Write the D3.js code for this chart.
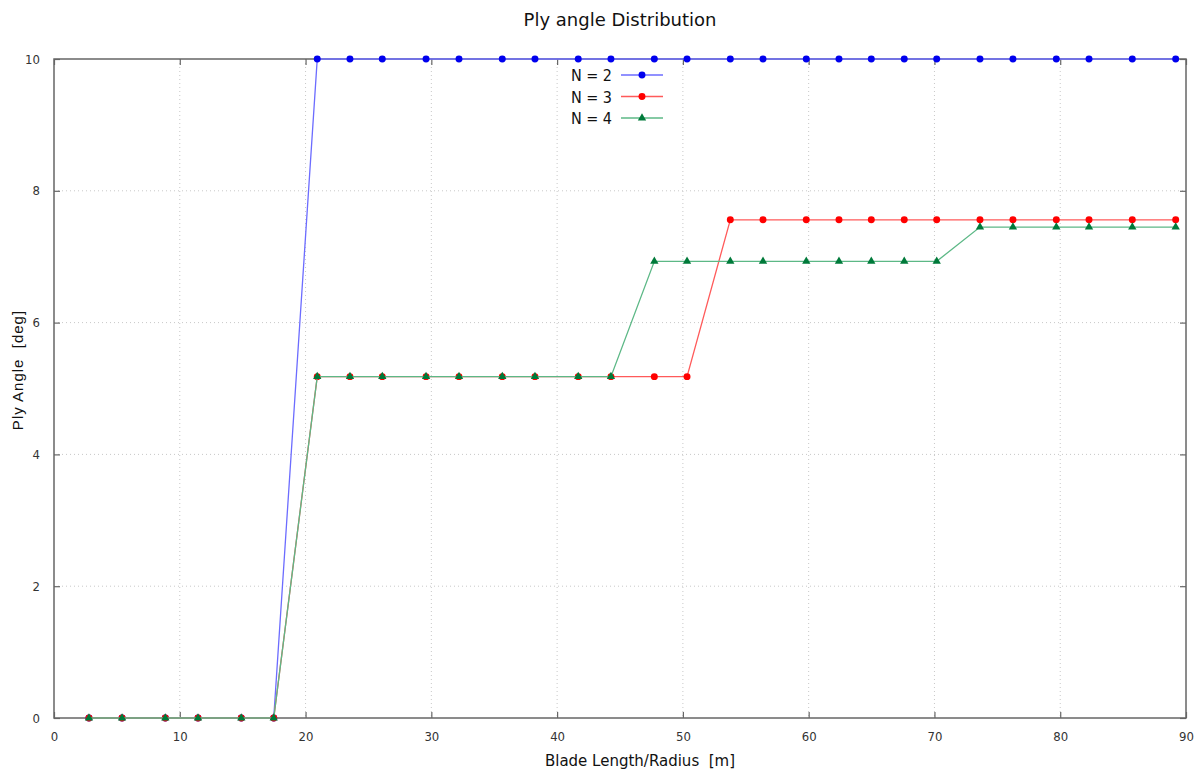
<!DOCTYPE html>
<html>
<head>
<meta charset="utf-8">
<script src="https://cdn.jsdelivr.net/npm/d3@7"></script>
<style>
  body { margin: 0; background: #fff; }
  svg { display: block; }
</style>
</head>
<body>
<div id="chart"></div>
<script>
// Blade stations (m), shared by all series.
var stations = [2.78, 5.41, 8.85, 11.45, 14.89, 17.47, 20.93, 23.53, 26.10, 29.58,
                32.20, 35.64, 38.24, 41.68, 44.28, 47.73, 50.33, 53.77, 56.37, 59.81,
                62.41, 64.98, 67.60, 70.18, 73.62, 76.24, 79.69, 82.29, 85.73, 89.18];

var plyN2 = [0, 0, 0, 0, 0, 0, 10, 10, 10, 10, 10, 10, 10, 10, 10, 10, 10, 10, 10, 10,
             10, 10, 10, 10, 10, 10, 10, 10, 10, 10];
var plyN3 = [0, 0, 0, 0, 0, 0, 5.18, 5.18, 5.18, 5.18, 5.18, 5.18, 5.18, 5.18, 5.18, 5.18, 5.18,
             7.56, 7.56, 7.56, 7.56, 7.56, 7.56, 7.56, 7.56, 7.56, 7.56, 7.56, 7.56, 7.56];
var plyN4 = [0, 0, 0, 0, 0, 0, 5.18, 5.18, 5.18, 5.18, 5.18, 5.18, 5.18, 5.18, 5.18,
             6.93, 6.93, 6.93, 6.93, 6.93, 6.93, 6.93, 6.93, 6.93,
             7.45, 7.45, 7.45, 7.45, 7.45, 7.45];

var seriesNames = ['N = 2', 'N = 3', 'N = 4'];
var xTicks = [0, 10, 20, 30, 40, 50, 60, 70, 80, 90];
var yTicks = [0, 2, 4, 6, 8, 10];

var W = 1199, H = 773;
var margin = {top: 59, right: 13, bottom: 55, left: 54};
var w = W - margin.left - margin.right;
var h = H - margin.top - margin.bottom;

var svg = d3.select('#chart').append('svg')
  .attr('width', W).attr('height', H);

var x = d3.scaleLinear().domain([0, 90]).range([0, w]);
var y = d3.scaleLinear().domain([0, 10]).range([h, 0]);

var g = svg.append('g').attr('transform', 'translate(' + margin.left + ',' + margin.top + ')');

// Dotted grid.
g.append('g').selectAll('line').data(xTicks.slice(1, -1)).enter().append('line')
  .attr('x1', d => x(d)).attr('x2', d => x(d))
  .attr('y1', 0).attr('y2', h)
  .attr('stroke', '#c8c8c8').attr('stroke-dasharray', '1,3');
g.append('g').selectAll('line').data(yTicks.slice(1, -1)).enter().append('line')
  .attr('x1', 0).attr('x2', w)
  .attr('y1', d => y(d)).attr('y2', d => y(d))
  .attr('stroke', '#c8c8c8').attr('stroke-dasharray', '1,3');

// Axes with inward ticks, mirrored like gnuplot.
function styleAxis(sel) {
  sel.select('.domain').remove();
  sel.selectAll('line').attr('stroke', '#666').attr('stroke-width', 1.2);
  sel.selectAll('text').attr('fill', '#333')
    .style('font-family', '"DejaVu Sans", sans-serif')
    .style('font-stretch', 'condensed')
    .style('font-size', '13px');
}
g.append('g').attr('transform', 'translate(0,' + h + ')')
  .call(d3.axisBottom(x).tickValues(xTicks).tickSizeInner(-6).tickSizeOuter(0).tickPadding(14))
  .call(styleAxis);
g.append('g')
  .call(d3.axisLeft(y).tickValues(yTicks).tickSizeInner(-6).tickSizeOuter(0).tickPadding(14))
  .call(styleAxis);
g.append('g')
  .call(d3.axisTop(x).tickValues(xTicks).tickSizeInner(-6).tickSizeOuter(0).tickFormat(''))
  .call(styleAxis);
g.append('g').attr('transform', 'translate(' + w + ',0)')
  .call(d3.axisRight(y).tickValues(yTicks).tickSizeInner(-6).tickSizeOuter(0).tickFormat(''))
  .call(styleAxis);

g.append('rect').attr('width', w).attr('height', h)
  .attr('fill', 'none').attr('stroke', '#666').attr('stroke-width', 1.5);

var series = [
  {name: seriesNames[0], vals: plyN2, line: '#6c6cff', mark: '#0000ee', shape: 'circle'},
  {name: seriesNames[1], vals: plyN3, line: '#ff5a5a', mark: '#ff0000', shape: 'circle'},
  {name: seriesNames[2], vals: plyN4, line: '#5cb886', mark: '#007a3a', shape: 'triangle'}
];

var line = d3.line().x(d => x(d[0])).y(d => y(d[1]));
var circleSym = d3.symbol().type(d3.symbolCircle).size(38);
var triSym = d3.symbol().type(d3.symbolTriangle).size(30);

series.forEach(function(s) {
  var pts = stations.map((st, i) => [st, s.vals[i]]);
  g.append('path').datum(pts)
    .attr('d', line).attr('fill', 'none')
    .attr('stroke', s.line).attr('stroke-width', 1.3);
  g.append('g').selectAll('path').data(pts).enter().append('path')
    .attr('transform', d => 'translate(' + x(d[0]) + ',' + y(d[1]) + ')')
    .attr('d', s.shape === 'circle' ? circleSym : triSym)
    .attr('fill', s.mark);
});

// Legend.
var leg = svg.append('g').attr('transform', 'translate(612,75)');
series.forEach(function(s, i) {
  var row = leg.append('g').attr('transform', 'translate(0,' + (i * 21.5) + ')');
  row.append('text').attr('x', 0).attr('y', 6).attr('text-anchor', 'end')
    .style('font-family', '"DejaVu Sans", sans-serif').style('font-size', '16px')
    .style('font-stretch', 'condensed')
    .attr('fill', '#111').text(s.name);
  row.append('line').attr('x1', 9).attr('x2', 51).attr('y1', 0).attr('y2', 0)
    .attr('stroke', s.line).attr('stroke-width', 1.3);
  row.append('path').attr('transform', 'translate(30,0)')
    .attr('d', s.shape === 'circle' ? circleSym : triSym).attr('fill', s.mark);
});

// Title and axis labels.
svg.append('text').attr('x', 620).attr('y', 26).attr('text-anchor', 'middle')
  .style('font-family', '"DejaVu Sans", sans-serif').style('font-size', '18px')
  .attr('fill', '#111').text('Ply angle Distribution');

svg.append('text').attr('x', 640).attr('y', 766).attr('text-anchor', 'middle')
  .style('font-family', '"DejaVu Sans", sans-serif').style('font-size', '15px')
  .attr('fill', '#111').attr('xml:space', 'preserve').text('Blade Length/Radius  [m]');

svg.append('text')
  .attr('transform', 'translate(23,370) rotate(-90)').attr('text-anchor', 'middle')
  .style('font-family', '"Liberation Sans", Arial, sans-serif').style('font-size', '15px')
  .style('letter-spacing', '1px')
  .attr('fill', '#111').attr('xml:space', 'preserve').text('Ply Angle  [deg]');
</script>
</body>
</html>
